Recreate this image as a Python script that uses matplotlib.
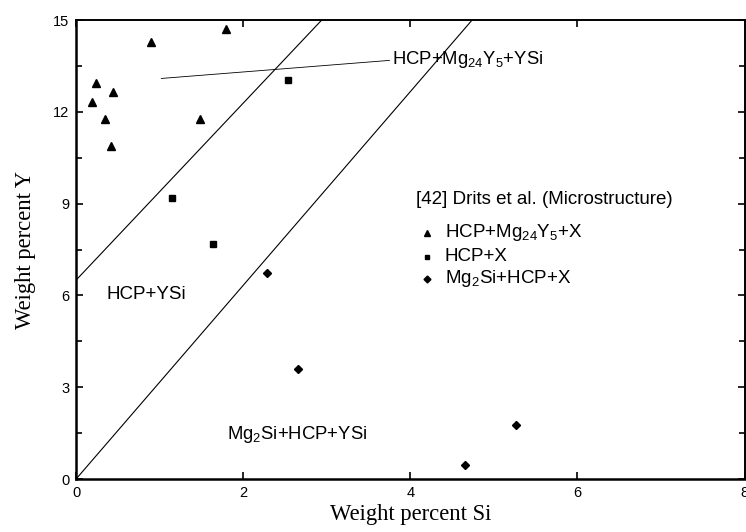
import matplotlib
matplotlib.use("Agg")
import matplotlib.pyplot as plt
from matplotlib.ticker import MultipleLocator

# data
tri_si = [0.19, 0.24, 0.44, 0.35, 0.42, 0.90, 1.80, 1.48]
tri_y = [12.32, 12.93, 12.64, 11.75, 10.88, 14.29, 14.70, 11.77]

sq_si = [1.15, 1.64, 2.54]
sq_y = [9.19, 7.69, 13.04]

dia_si = [2.28, 2.66, 4.66, 5.26]
dia_y = [6.72, 3.61, 0.45, 1.76]

# phase boundary lines
line1_si = [0.0, 2.94]
line1_y = [6.5, 15.0]
line2_si = [0.0, 4.74]
line2_y = [0.0, 15.0]
line3_si = [1.02, 3.75]
line3_y = [13.09, 13.68]

sans = "Liberation Sans"
serif = "Liberation Serif"
plt.rcParams["mathtext.fontset"] = "custom"
plt.rcParams["mathtext.rm"] = sans
plt.rcParams["mathtext.it"] = sans + ":italic"
plt.rcParams["mathtext.bf"] = sans + ":bold"

fig = plt.figure(figsize=(7.46, 5.32), dpi=100)
ax = fig.add_axes([0.102, 0.0996, 0.896, 0.8628])

ax.plot(line1_si, line1_y, color="black", lw=0.8)
ax.plot(line2_si, line2_y, color="black", lw=0.8)
ax.plot(line3_si, line3_y, color="black", lw=0.6)

ax.plot(tri_si, tri_y, "^", color="black", ms=6, ls="none")
ax.plot(sq_si, sq_y, "s", color="black", ms=4.5, ls="none")
ax.plot(dia_si, dia_y, "D", color="black", ms=4.5, ls="none")

# region labels
ax.text(0.36, 6.02, "HCP+YSi", fontsize=13.5, family=sans, va="center")
ax.text(1.81, 1.44, r"Mg$_\mathrm{2}$Si+HCP+YSi", fontsize=13.3, family=sans, va="center")
ax.text(3.78, 13.72, r"HCP+Mg$_\mathrm{24}$Y$_\mathrm{5}$+YSi", fontsize=13.3, family=sans, va="center")

# legend built by hand like the original
ax.text(4.07, 9.13, "[42] Drits et al. (Microstructure)", fontsize=13.5, family=sans, va="center")
leg_y = [8.05, 7.27, 6.55]
leg_mk = ["^", "s", "D"]
leg_ms = [4, 3.5, 3.5]
leg_txt = [r"HCP+Mg$_\mathrm{24}$Y$_\mathrm{5}$+X", "HCP+X", r"Mg$_\mathrm{2}$Si+HCP+X"]
for yy, mk, ms, tx in zip(leg_y, leg_mk, leg_ms, leg_txt):
    ax.plot([4.2], [yy], mk, color="black", ms=ms)
    ax.text(4.41, yy, tx, fontsize=13.5, family=sans, va="center")

ax.set_xlim(0, 8)
ax.set_ylim(0, 15)
ax.xaxis.set_major_locator(MultipleLocator(2))
ax.yaxis.set_major_locator(MultipleLocator(3))
ax.yaxis.set_minor_locator(MultipleLocator(1.5))
ax.tick_params(which="both", direction="in", top=True, right=True, width=1.2)
ax.tick_params(which="major", length=5, labelsize=10.5, pad=5)
ax.tick_params(which="minor", length=4)
ax.tick_params(axis="x", which="minor", bottom=False, top=False)
for lab in ax.get_xticklabels() + ax.get_yticklabels():
    lab.set_family(sans)

for side in ["left", "bottom"]:
    ax.spines[side].set_linewidth(1.8)
for side in ["top", "right"]:
    ax.spines[side].set_linewidth(1.4)

ax.set_xlabel("Weight percent Si", fontsize=16.3, family=serif, labelpad=3)
ax.set_ylabel("Weight percent Y", fontsize=16.3, family=serif, labelpad=12)

fig.savefig("out.png", dpi=100)
